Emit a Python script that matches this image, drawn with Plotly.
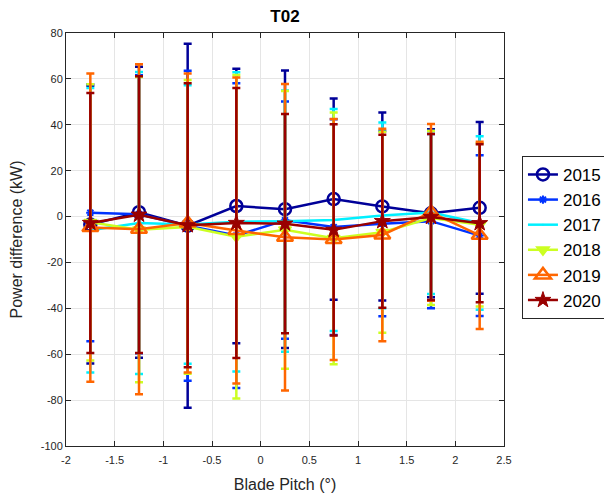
import plotly.graph_objects as go

pitch = [-1.75, -1.25, -0.75, -0.25, 0.25, 0.75, 1.25, 1.75, 2.25]
years = ["2015", "2016", "2017", "2018", "2019", "2020"]

val_2015 = [-3.5, 1.9, -4.0, 4.6, 3.2, 7.6, 4.4, 1.4, 3.8]
err_2015 = [60.5, 63.4, 79.3, 59.8, 60.5, 43.9, 41.0, 36.6, 37.4]
val_2016 = [1.7, 1.0, -4.0, -8.3, -1.6, -4.6, -3.1, -2.0, -8.3]
err_2016 = [56.0, 60.6, 67.6, 66.4, 51.7, 47.0, 40.4, 38.0, 35.0]
val_2017 = [-6.0, -2.8, -3.5, -2.3, -2.0, -1.5, 0.5, 1.8, -2.8]
err_2017 = [62.0, 65.8, 60.7, 65.2, 56.9, 48.4, 40.5, 35.5, 37.8]
val_2018 = [-2.5, -5.7, -4.5, -8.8, -5.8, -9.5, -6.8, -0.6, -3.6]
err_2018 = [60.2, 66.5, 64.0, 70.5, 60.5, 54.9, 43.8, 37.9, 35.6]
val_2019 = [-4.8, -5.5, -2.8, -6.1, -9.0, -10.0, -8.0, 1.8, -8.2]
err_2019 = [67.2, 71.9, 65.2, 66.7, 66.8, 52.5, 46.3, 38.5, 40.8]
val_2020 = [-2.8, 0.8, -3.8, -2.8, -3.1, -5.8, -2.0, -0.2, -2.9]
err_2020 = [56.7, 60.3, 61.9, 58.8, 47.8, 46.0, 37.7, 36.2, 34.4]

x_ticks = [-2, -1.5, -1, -0.5, 0, 0.5, 1, 1.5, 2, 2.5]
x_ticklabels = ["-2", "-1.5", "-1", "-0.5", "0", "0.5", "1", "1.5", "2", "2.5"]
y_ticks = [-100, -80, -60, -40, -20, 0, 20, 40, 60, 80]
y_ticklabels = ["-100", "-80", "-60", "-40", "-20", "0", "20", "40", "60", "80"]

values = [val_2015, val_2016, val_2017, val_2018, val_2019, val_2020]
errors = [err_2015, err_2016, err_2017, err_2018, err_2019, err_2020]
colors = ["#000099", "#0033ff", "#00f0ff", "#ccff22", "#ff6600", "#990000"]
markers = [
    dict(symbol="circle-open", size=12, line=dict(width=2.5)),
    dict(symbol="asterisk-open", size=7, line=dict(width=2)),
    dict(symbol="circle", size=1, line=dict(width=0)),
    dict(symbol="triangle-down", size=11, line=dict(width=1.5)),
    dict(symbol="triangle-up-open", size=14, line=dict(width=2.5)),
    dict(symbol="star", size=12, line=dict(width=1)),
]

fig = go.Figure()
for yr, v, e, c, m in zip(years, values, errors, colors, markers):
    mk = dict(m)
    mk["color"] = c
    mk["line"] = dict(m["line"], color=c)
    fig.add_trace(go.Scatter(
        x=pitch, y=v, name=yr, mode="lines+markers",
        line=dict(color=c, width=2.5),
        marker=mk,
        error_y=dict(type="data", array=e, visible=True, color=c, thickness=2.5, width=4),
    ))

axis_common = dict(
    showline=True, linecolor="#262626", linewidth=1, mirror="allticks",
    ticks="inside", ticklen=5, tickcolor="#262626",
    showgrid=True, gridcolor="#e5e5e5", gridwidth=1, zeroline=False,
    automargin=False,
    tickfont=dict(family="Liberation Sans, Arial", size=11, color="#262626"),
)

fig.update_layout(
    width=612, height=495,
    margin=dict(l=58, r=116, t=25, b=57, autoexpand=False),
    paper_bgcolor="white", plot_bgcolor="white",
    title=dict(text="<b>T02</b>", xref="paper", x=0.5, xanchor="center",
               yref="container", y=0.996, yanchor="top", pad=dict(t=0), automargin=False,
               font=dict(family="Liberation Sans, Arial", size=17, color="black")),
    xaxis=dict(axis_common, range=[-2, 2.5], tickvals=x_ticks, ticktext=x_ticklabels,
               ticklabelstandoff=4,
               title=dict(text="Blade Pitch (°)", standoff=13,
                          font=dict(family="Liberation Sans, Arial", size=16, color="#262626"))),
    yaxis=dict(axis_common, range=[-100, 80], tickvals=y_ticks, ticktext=y_ticklabels,
               title=dict(text="Power difference (kW)", standoff=14,
                          font=dict(family="Liberation Sans, Arial", size=16, color="#262626"))),
    legend=dict(x=1.041, y=0.505, xanchor="left", yanchor="middle",
                bordercolor="#262626", borderwidth=1, bgcolor="white",
                font=dict(family="Liberation Sans, Arial", size=17, color="black"),
                tracegroupgap=0, itemwidth=30),
    showlegend=True,
)

fig.write_html("out.html")
